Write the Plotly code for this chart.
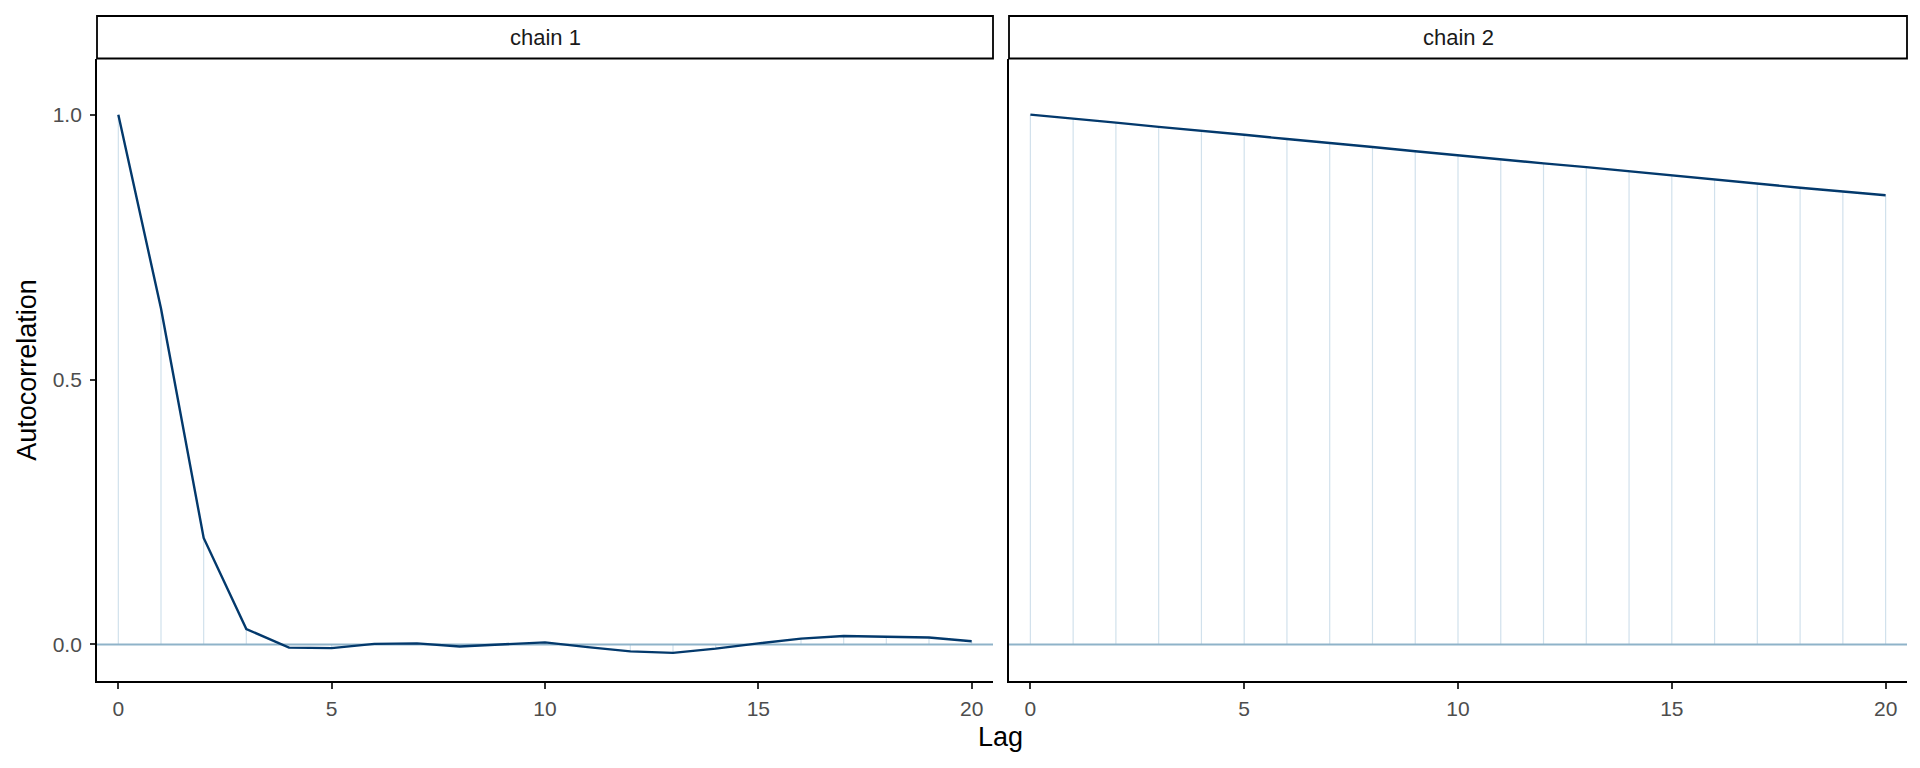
import plotly.graph_objects as go

lags = list(range(21))
chain1 = [1.000, 0.634, 0.201, 0.029, -0.006, -0.007, 0.001, 0.002, -0.004, 0.000,
          0.004, -0.005, -0.013, -0.016, -0.008, 0.002, 0.011, 0.016, 0.015, 0.013, 0.006]
chain2 = [1.000, 0.993, 0.985, 0.977, 0.970, 0.962, 0.954, 0.947, 0.939, 0.931,
          0.923, 0.916, 0.908, 0.901, 0.893, 0.885, 0.877, 0.870, 0.862, 0.855, 0.848]
panel_labels = ["chain 1", "chain 2"]
x_ticks = [0, 5, 10, 15, 20]
y_ticks = [0.0, 0.5, 1.0]
y_tick_text = ["0.0", "0.5", "1.0"]

XR = [-0.5, 20.5]
YR = [-0.069, 1.106]

W, H = 1920, 768
dom_x = [[97 / W, 993 / W], [1009 / W, 1907 / W]]
dom_y = [1 - 681 / H, 1 - 58.5 / H]
strip_y = [1 - 58.5 / H, 1 - 16 / H]

FONT = "Liberation Sans, Arial, sans-serif"
LIGHT = "#d1e1ec"
DARK = "#03396c"
HLINE = "#8fb3c9"

fig = go.Figure()
series = [chain1, chain2]
for i, vals in enumerate(series):
    xa = "x" if i == 0 else "x2"
    ya = "y" if i == 0 else "y2"
    sx, sy = [], []
    for l, v in zip(lags, vals):
        sx += [l, l, None]
        sy += [0, v, None]
    fig.add_trace(go.Scatter(x=sx, y=sy, mode="lines", line=dict(color=LIGHT, width=1.2),
                             xaxis=xa, yaxis=ya, hoverinfo="skip", showlegend=False))
    fig.add_trace(go.Scatter(x=XR, y=[0, 0], mode="lines", line=dict(color=HLINE, width=2),
                             xaxis=xa, yaxis=ya, hoverinfo="skip", showlegend=False))
    fig.add_trace(go.Scatter(x=lags, y=vals, mode="lines", line=dict(color=DARK, width=2.4),
                             xaxis=xa, yaxis=ya, showlegend=False, name=panel_labels[i]))

axis_common = dict(showgrid=False, zeroline=False, showline=True, linecolor="black",
                   linewidth=1.8, tickcolor="#333333", tickwidth=1.6, automargin=False,
                   tickfont=dict(family=FONT, size=21, color="#4d4d4d"))

fig.update_layout(
    width=W, height=H,
    margin=dict(l=0, r=0, t=0, b=0, pad=0, autoexpand=False),
    plot_bgcolor="white", paper_bgcolor="white",
    xaxis=dict(domain=dom_x[0], range=XR, tickvals=x_ticks, ticks="outside", ticklen=6,
               ticklabelstandoff=2, anchor="y", **axis_common),
    xaxis2=dict(domain=dom_x[1], range=XR, tickvals=x_ticks, ticks="outside", ticklen=6,
                ticklabelstandoff=2, anchor="y2", **axis_common),
    yaxis=dict(domain=dom_y, range=YR, tickvals=y_ticks, ticktext=y_tick_text, ticks="outside",
               ticklen=5, ticklabelstandoff=4, anchor="x", **axis_common),
    yaxis2=dict(domain=dom_y, range=YR, tickvals=y_ticks, showticklabels=False, ticks="",
                anchor="x2", **axis_common),
)

shapes = []
annotations = []
for i in range(2):
    shapes.append(dict(type="rect", xref="paper", yref="paper",
                       x0=dom_x[i][0], x1=dom_x[i][1], y0=strip_y[0], y1=strip_y[1],
                       line=dict(color="black", width=1.8), fillcolor="white", layer="above"))
    annotations.append(dict(text=panel_labels[i], xref="paper", yref="paper",
                            x=(dom_x[i][0] + dom_x[i][1]) / 2, y=(strip_y[0] + strip_y[1]) / 2,
                            showarrow=False, xanchor="center", yanchor="middle",
                            font=dict(family=FONT, size=22, color="#1a1a1a")))
annotations.append(dict(text="Lag", xref="paper", yref="paper", x=1000 / W, y=1 - 737 / H,
                        showarrow=False, xanchor="center", yanchor="middle",
                        font=dict(family=FONT, size=27, color="black")))
annotations.append(dict(text="Autocorrelation", xref="paper", yref="paper", x=27 / W,
                        y=(dom_y[0] + dom_y[1]) / 2, textangle=-90,
                        showarrow=False, xanchor="center", yanchor="middle",
                        font=dict(family=FONT, size=27, color="black")))
fig.update_layout(shapes=shapes, annotations=annotations)

fig.write_html("out.html", config={"displayModeBar": False},
               post_script="document.body.style.margin='0';document.body.style.padding='0';"
                           "document.body.style.overflow='hidden';")
